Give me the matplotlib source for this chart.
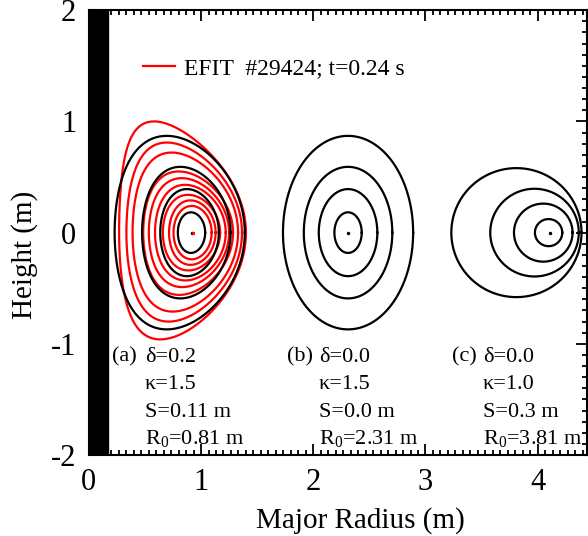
import numpy as np
import matplotlib
matplotlib.use("Agg")
import matplotlib.pyplot as plt
from matplotlib.ticker import MultipleLocator, AutoMinorLocator

plt.rcParams['font.family'] = ['Liberation Serif', 'DejaVu Serif']
plt.rcParams['mathtext.fontset'] = 'custom'
plt.rcParams['mathtext.rm'] = 'Liberation Serif'
plt.rcParams['axes.unicode_minus'] = False

# model equilibria (a), (b), (c)
model_labels = ['(a)', '(b)', '(c)']
model_delta = [0.2, 0.0, 0.0]
model_kappa = [1.5, 1.5, 1.0]
model_shift = [0.11, 0.0, 0.3]
model_r0 = [0.81, 2.31, 3.81]
model_shift_txt = ['0.11', '0.0', '0.3']
minor_radius = 0.58
rho_levels = [0.21, 0.45, 0.68, 1.0]

# EFIT flux surfaces, shot #29424
efit_rin = [0.27, 0.335, 0.39, 0.485, 0.535, 0.59, 0.66, 0.715, 0.755]
efit_rout = [1.40, 1.365, 1.33, 1.285, 1.25, 1.22, 1.17, 1.13, 1.095]
efit_ztop = [1.00, 0.81, 0.72, 0.55, 0.49, 0.43, 0.34, 0.29, 0.24]
efit_zbot = [-0.96, -0.80, -0.71, -0.56, -0.49, -0.43, -0.34, -0.29, -0.24]
efit_dup = [0.45, 0.30, 0.26, 0.21, 0.18, 0.15, 0.12, 0.08, 0.05]
efit_dlo = [0.35, 0.27, 0.24, 0.20, 0.17, 0.14, 0.11, 0.08, 0.05]
efit_axis = 0.93

cs_width = 0.17   # central column


def surface(rc, a, ku, kl, du, dl, n=400):
    th = np.linspace(0, 2 * np.pi, n)
    up = np.sin(th) >= 0
    d = np.where(up, du, dl)
    k = np.where(up, ku, kl)
    R = rc + a * np.cos(th + np.arcsin(d) * np.sin(th))
    Z = k * a * np.sin(th)
    return R, Z


fig = plt.figure(figsize=(5.88, 5.36), dpi=100)
ax = fig.add_axes([0.151, 0.151, 0.8475, 0.830])

ax.axvspan(0, cs_width, color='black', zorder=5)

# EFIT (red)
for i in range(len(efit_rin)):
    rc = (efit_rin[i] + efit_rout[i]) / 2
    a = (efit_rout[i] - efit_rin[i]) / 2
    R, Z = surface(rc, a, efit_ztop[i] / a, -efit_zbot[i] / a,
                   efit_dup[i], efit_dlo[i])
    ax.plot(R, Z, color='red', lw=1.6, zorder=2,
            label='EFIT  #29424; t=0.24 s' if i == 0 else None)

# model surfaces (black)
for j in range(3):
    for rho in rho_levels:
        a = rho * minor_radius
        rc = model_r0[j] + model_shift[j] * (1 - rho ** 2)
        d = model_delta[j] * rho
        R, Z = surface(rc, a, model_kappa[j], model_kappa[j], d, d)
        ax.plot(R, Z, color='black', lw=1.6, zorder=3)
    ax.plot(model_r0[j] + model_shift[j], 0, 'o', color='black', ms=1.5, zorder=4)
ax.plot(efit_axis, 0, 's', color='red', ms=1.2, zorder=4)

# annotations
label_x = [0.21, 1.77, 3.24]
text_x = [0.50, 2.05, 3.51]
rows = [-1.12, -1.37, -1.615, -1.86]
for j in range(3):
    ax.text(label_x[j], rows[0], model_labels[j], fontsize=16, va='center')
    lines = ['δ=%.1f' % model_delta[j], 'κ=%.1f' % model_kappa[j],
             'S=%s m' % model_shift_txt[j], r'R$_{\rm 0}$=%.2f m' % model_r0[j]]
    for t, y in zip(lines, rows):
        ax.text(text_x[j], y, t, fontsize=16, va='center')

ax.legend(loc='upper left', bbox_to_anchor=(0.066, 0.94), frameon=False,
          fontsize=17, handlelength=1.35, handletextpad=0.4)

ax.set_xlim(0, 4.44)
ax.set_ylim(-2, 2)
ax.xaxis.set_major_locator(MultipleLocator(1))
ax.yaxis.set_major_locator(MultipleLocator(1))
ax.xaxis.set_minor_locator(AutoMinorLocator(15))
ax.yaxis.set_minor_locator(AutoMinorLocator(10))
ax.tick_params(which='both', direction='in', top=True, right=True,
               labelsize=22, width=1.3)
ax.tick_params(which='major', length=8, pad=9)
ax.tick_params(which='minor', length=3.5)
for s in ax.spines.values():
    s.set_linewidth(1.5)

ax.set_xlabel('Major Radius (m)', fontsize=21)
ax.set_ylabel('Height (m)', fontsize=21)
ax.xaxis.set_label_coords(0.544, -0.118)
ax.yaxis.set_label_coords(-0.102, 0.45)

fig.savefig('out.png', dpi=100)
